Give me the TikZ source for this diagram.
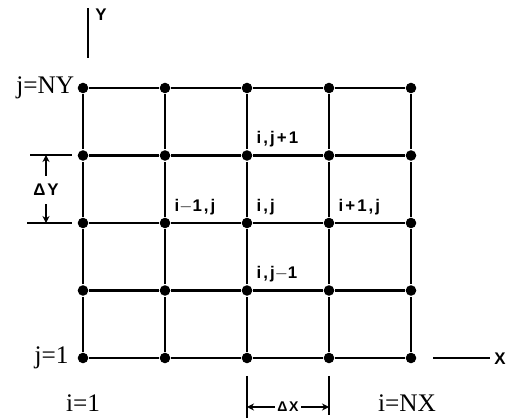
\documentclass[tikz,border=0pt]{standalone}
\usepackage{fontspec}
\setmainfont{Liberation Serif}
\newfontfamily\gridfont[LetterSpace=12]{Liberation Sans}
\usetikzlibrary{positioning,arrows.meta}

\begin{document}
\begin{tikzpicture}[x=0.025cm, y=-0.025cm, line width=1.5pt,
    dot/.style={circle, fill, inner sep=0pt, minimum size=7.5pt},
    lbl/.style={font=\gridfont\bfseries\fontsize{12}{12}\selectfont, inner sep=1pt},
    idx/.style={font=\fontsize{18}{18}\selectfont, inner sep=1pt},
    dim/.style={-{Stealth[length=5pt,width=5pt]}, line width=1pt}]
  \useasboundingbox (0,0) rectangle (508,419);
  % grid points p-i-j
  \foreach \i in {1,...,5}
    \foreach \j in {1,...,5}
      \node[dot] (p-\i-\j) at ({83+82*(\i-1)}, {358-67.5*(\j-1)}) {};
  \foreach \a [evaluate=\a as \b using int(\a+1)] in {1,...,4}
    \foreach \c in {1,...,5} {
      \draw (p-\a-\c) -- (p-\b-\c);
      \draw (p-\c-\a) -- (p-\c-\b);
    }

  % index labels
  \node[idx, left=0pt of p-1-5] (jny) {j=NY};
  \node[idx, left=4pt of p-1-1] (jone) {j=1};
  \node[idx] (ione) at (83,403) {i=1};
  \node[idx] (inx)  at (407,403) {i=NX};

  % point labels
  \node[lbl, above right=1pt and 2pt of p-3-4] (ijp) {i,j+1};
  \node[lbl, above right=1pt and 2pt of p-2-3] (imj) {i$-$1,j};
  \node[lbl, above right=1pt and 2pt of p-3-3] (ij)  {i,j};
  \node[lbl, above right=1pt and 2pt of p-4-3] (ipj) {i+1,j};
  \node[lbl, above right=1pt and 2pt of p-3-2] (ijm) {i,j$-$1};

  % axes
  \coordinate (ybot) at (88,58);
  \coordinate (ytop) at (88,8);
  \draw (ybot) -- (ytop);
  \node[lbl] (ylab) at (101,15) {Y};
  \coordinate (xa) at (433,358);
  \coordinate (xb) at (490,358);
  \draw (xa) -- (xb);
  \node[lbl] (xlab) at (500,359) {X};

  % delta y
  \coordinate (dy1a) at (30,155);
  \coordinate (dy1b) at (72,155);
  \coordinate (dy2a) at (27,223);
  \coordinate (dy2b) at (72,223);
  \draw (dy1a) -- (dy1b);
  \draw (dy2a) -- (dy2b);
  \node[lbl] (dy) at (46,190) {ΔY};
  \draw[dim] (dy.north) ++(0,-6) coordinate (dyn) -- (dyn |- dy1a);
  \draw[dim] (dy.south) ++(0,6) coordinate (dys) -- (dys |- dy2a);

  % delta x
  \coordinate (dx1a) at (247,376);
  \coordinate (dx1b) at (247,418);
  \coordinate (dx2a) at (329,376);
  \coordinate (dx2b) at (329,415);
  \draw (dx1a) -- (dx1b);
  \draw (dx2a) -- (dx2b);
  \node[lbl, font=\gridfont\bfseries\fontsize{10}{10}\selectfont] (dx) at (288,407) {ΔX};
  \draw[dim] (dx.west) -- (dx.west -| dx1a);
  \draw[dim] (dx.east) -- (dx.east -| dx2a);
\end{tikzpicture}
\end{document}
